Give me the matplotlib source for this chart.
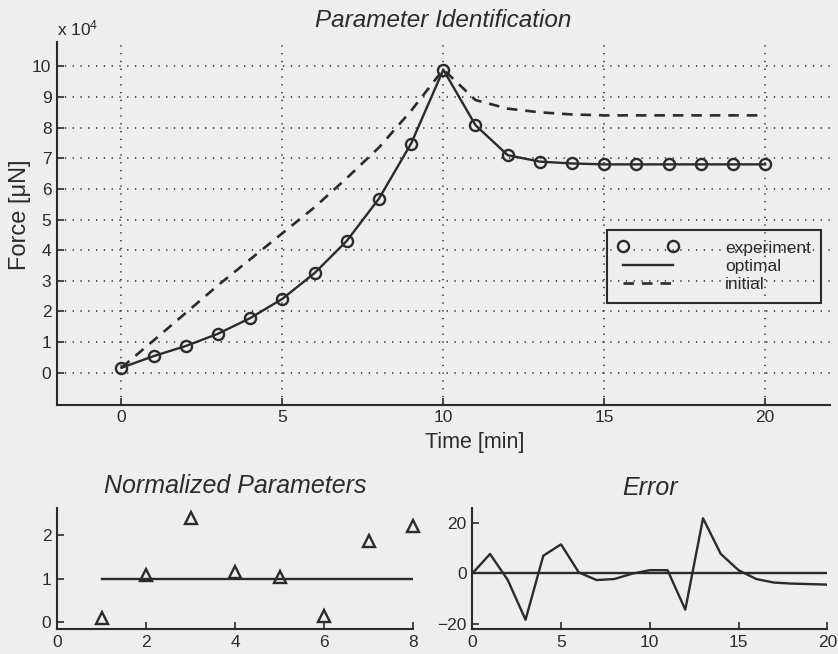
import numpy as np
import matplotlib
matplotlib.use('Agg')
import matplotlib.pyplot as plt

plt.rcParams['font.family'] = ['Liberation Sans', 'DejaVu Sans']
plt.rcParams['mathtext.default'] = 'regular'

#%% data (force in units of 1e4 uN)
time = list(range(21))
experiment = [0.16, 0.54, 0.87, 1.27, 1.78, 2.41, 3.25, 4.30, 5.68, 7.48, 9.89,
              8.08, 7.10, 6.89, 6.83, 6.80, 6.80, 6.80, 6.80, 6.80, 6.80]
optimal = [0.16, 0.54, 0.87, 1.27, 1.78, 2.41, 3.25, 4.30, 5.68, 7.48, 9.89,
           8.08, 7.10, 6.89, 6.83, 6.80, 6.80, 6.80, 6.80, 6.80, 6.80]
initial = [0.16, 1.05, 1.95, 2.85, 3.70, 4.55, 5.40, 6.35, 7.35, 8.55, 9.90,
           8.90, 8.62, 8.50, 8.43, 8.40, 8.40, 8.40, 8.40, 8.40, 8.40]

param_idx = [1, 2, 3, 4, 5, 6, 7, 8]
param_norm = [0.08, 1.08, 2.41, 1.15, 1.04, 0.13, 1.87, 2.21]

error = [0, 7.7, -2.6, -18.3, 7.0, 11.5, 0.4, -2.6, -2.2, -0.1, 1.3,
         1.3, -14.3, 21.8, 7.7, 1.3, -2.2, -3.6, -4.0, -4.2, -4.4]

ink = '#2b2b2b'
bg = '#eeeeee'

fig = plt.figure(figsize=(8.38, 6.54), dpi=100, facecolor=bg)

def style(ax, fs=12.5):
    ax.set_facecolor('none')
    for s in ['top', 'right']:
        ax.spines[s].set_visible(False)
    for s in ['left', 'bottom']:
        ax.spines[s].set_color(ink)
        ax.spines[s].set_linewidth(1.5)
    ax.tick_params(direction='in', length=5, width=1.2, colors=ink,
                   labelsize=fs, pad=4)

#%% main plot
ax = fig.add_axes([0.068, 0.381, 0.922, 0.555])
style(ax)
ax.plot(time, experiment, 'o', ms=8, mfc='none', mec=ink, mew=1.7,
        label='experiment')
ax.plot(time, optimal, '-', color=ink, lw=1.7, label='optimal')
ax.plot(time, initial, '--', color=ink, lw=1.9, dashes=(4, 3),
        label='initial')
ax.set_xlim(-2, 22)
ax.set_ylim(-1.05, 10.8)
ax.set_xticks([0, 5, 10, 15, 20])
ax.set_yticks(range(11))
ax.grid(True, linestyle=(0, (0.9, 4.2)), color=ink, lw=1.1)
ax.set_xlabel('Time [min]', fontsize=15.5, color=ink)
ax.xaxis.set_label_coords(0.541, -0.074)
ax.set_ylabel('Force [\u03bcN]', fontsize=17, color=ink)
ax.yaxis.set_label_coords(-0.033, 0.523)
ax.set_title('Parameter Identification', fontsize=17.5, style='italic',
             color=ink, pad=11)
fig.text(57 / 838, 1 - 35 / 654, r'x 10$^4$', fontsize=12.5, color=ink,
         va='baseline')
leg = ax.legend(loc='upper left', bbox_to_anchor=(607 / 838, 1 - 230 / 654),
                bbox_transform=fig.transFigure, borderaxespad=0,
                numpoints=2, fontsize=12.5, handlelength=3.5,
                handletextpad=2.7, labelspacing=0.18, borderpad=0.6,
                fancybox=False, framealpha=1, facecolor='none')
leg.get_frame().set_edgecolor(ink)
leg.get_frame().set_linewidth(1.5)
for txt in leg.get_texts():
    txt.set_color(ink)

#%% normalized parameters
ax2 = fig.add_axes([0.068, 0.038, 0.425, 0.185])
style(ax2)
ax2.plot(param_idx, param_norm, '^', ms=9, mfc='none', mec=ink, mew=1.7,
         clip_on=False)
ax2.plot([param_idx[0], param_idx[-1]], [1, 1], '-', color=ink, lw=1.7)
ax2.set_xlim(0, 8)
ax2.set_ylim(-0.17, 2.63)
ax2.set_xticks([0, 2, 4, 6, 8])
ax2.set_yticks([0, 1, 2])
ax2.set_title('Normalized Parameters', fontsize=18, style='italic',
              color=ink, pad=11)

#%% error
ax3 = fig.add_axes([0.5636, 0.038, 0.4236, 0.185])
style(ax3)
ax3.plot(time, error, '-', color=ink, lw=1.7)
ax3.plot([time[0], time[-1]], [0, 0], '-', color=ink, lw=1.7)
ax3.set_xlim(0, 20)
ax3.set_ylim(-22, 25.8)
ax3.set_xticks([0, 5, 10, 15, 20])
ax3.set_yticks([-20, 0, 20])
ax3.set_title('Error', fontsize=18, style='italic', color=ink, pad=9.5)

fig.savefig('out.png', dpi=100, facecolor=bg)
